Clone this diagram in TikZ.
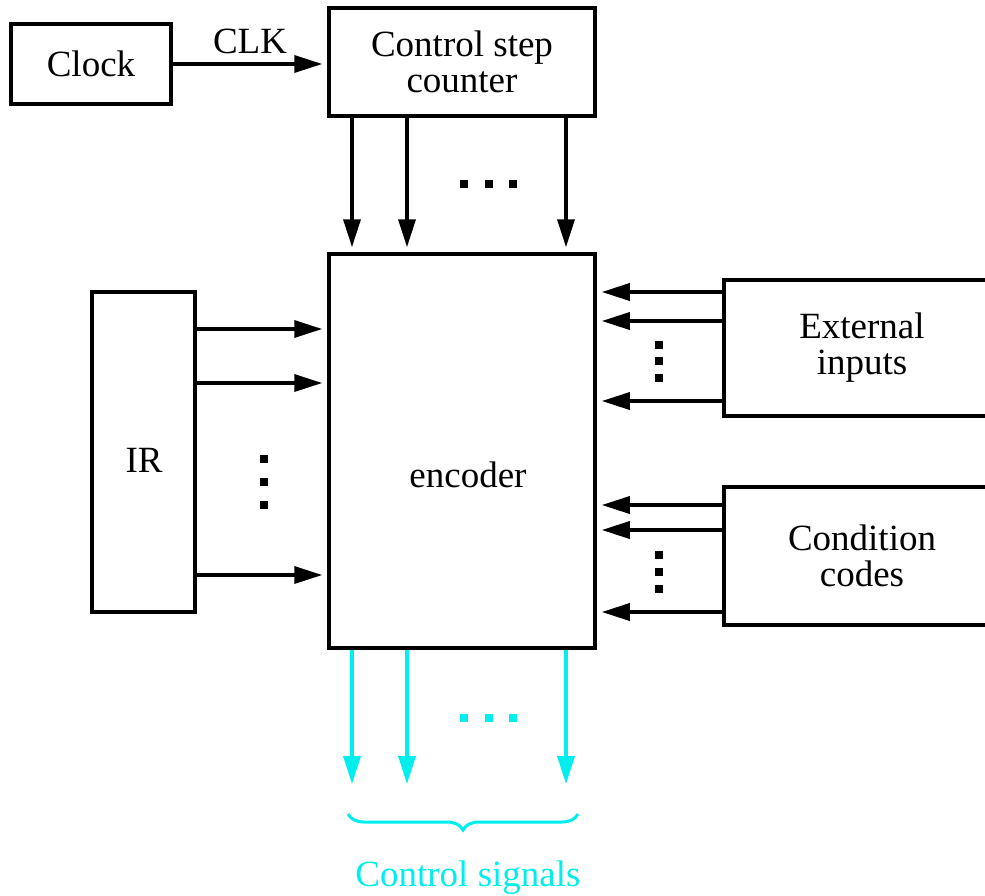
\documentclass[tikz,border=0pt]{standalone}
\usepackage{fontspec}
\setmainfont{Liberation Serif}
\usetikzlibrary{arrows.meta,decorations.pathreplacing}
\definecolor{sigcyan}{RGB}{0,238,238}
\tikzset{
  blk/.style={draw, line width=3.5pt, inner sep=0pt, align=center,
    font=\fontsize{37}{36}\selectfont},
  wire/.style={line width=3.5pt, -{Triangle[length=28pt,width=17pt]}, shorten >=5pt},
  sigwire/.style={wire, draw=sigcyan},
  dot/.style={fill=black},
  lbl/.style={inner sep=0pt, font=\fontsize{37}{36}\selectfont},
}
\begin{document}
\begin{tikzpicture}[x=1pt,y=-1pt]
\useasboundingbox (0,0) rectangle (985,895);
\clip (0,0) rectangle (985,895);

% blocks
\node[blk, minimum width=160pt, minimum height=80pt] (clock) at (91,64) {Clock};
\node[blk, minimum width=266pt, minimum height=108pt] (ctr) at (462,62) {Control step\\counter};
\node[blk, minimum width=266pt, minimum height=394pt] (enc) at (462,451) {};
\node[lbl] (enctext) at (468,475) {encoder};
\node[blk, minimum width=103pt, minimum height=320pt] (ir) at (143.5,452) {};
\node[lbl] (irtext) at (144,460) {IR};
\node[blk, minimum width=276pt, minimum height=136pt] (ext) at (862,348) {External\\inputs};
\node[blk, minimum width=276pt, minimum height=138pt] (cond) at (862,556) {Condition\\codes};

% clock line
\draw[wire] (clock.east) -- (ctr.west |- clock.east)
  node[lbl, midway, above=8pt] (clk) {CLK};

% counter to encoder
\foreach \x in {352,407,566}
  \draw[wire] (ctr.south -| \x,0) -- (enc.north -| \x,0);
\foreach \x in {464,489,513}
  \fill[dot] (\x-4,180) rectangle (\x+4,188);

% IR to encoder
\foreach \y in {329,383,575}
  \draw[wire] (ir.east |- 0,\y) -- (enc.west |- 0,\y);
\foreach \y in {459,482,505}
  \fill[dot] (260,\y-4) rectangle (268,\y+4);

% external inputs to encoder
\foreach \y in {292,321,401}
  \draw[wire] (ext.west |- 0,\y) -- (enc.east |- 0,\y);
\foreach \y in {345,361,378}
  \fill[dot] (655,\y-4) rectangle (663,\y+4);

% condition codes to encoder
\foreach \y in {505,530,612}
  \draw[wire] (cond.west |- 0,\y) -- (enc.east |- 0,\y);
\foreach \y in {555,572,589}
  \fill[dot] (655,\y-4) rectangle (663,\y+4);

% control signals out
\foreach \x in {352,407,566}
  \draw[sigwire, shorten >=0pt] (enc.south -| \x,0) -- (\x,784);
\foreach \x in {464,489,513}
  \fill[sigcyan] (\x-4,714) rectangle (\x+4,722);

\draw[sigcyan, line width=3pt, decorate,
  decoration={brace, mirror, amplitude=16pt}] (348,814) -- (578,814);
\node[lbl, text=sigcyan] (sig) at (468,878) {Control signals};
\end{tikzpicture}
\end{document}
